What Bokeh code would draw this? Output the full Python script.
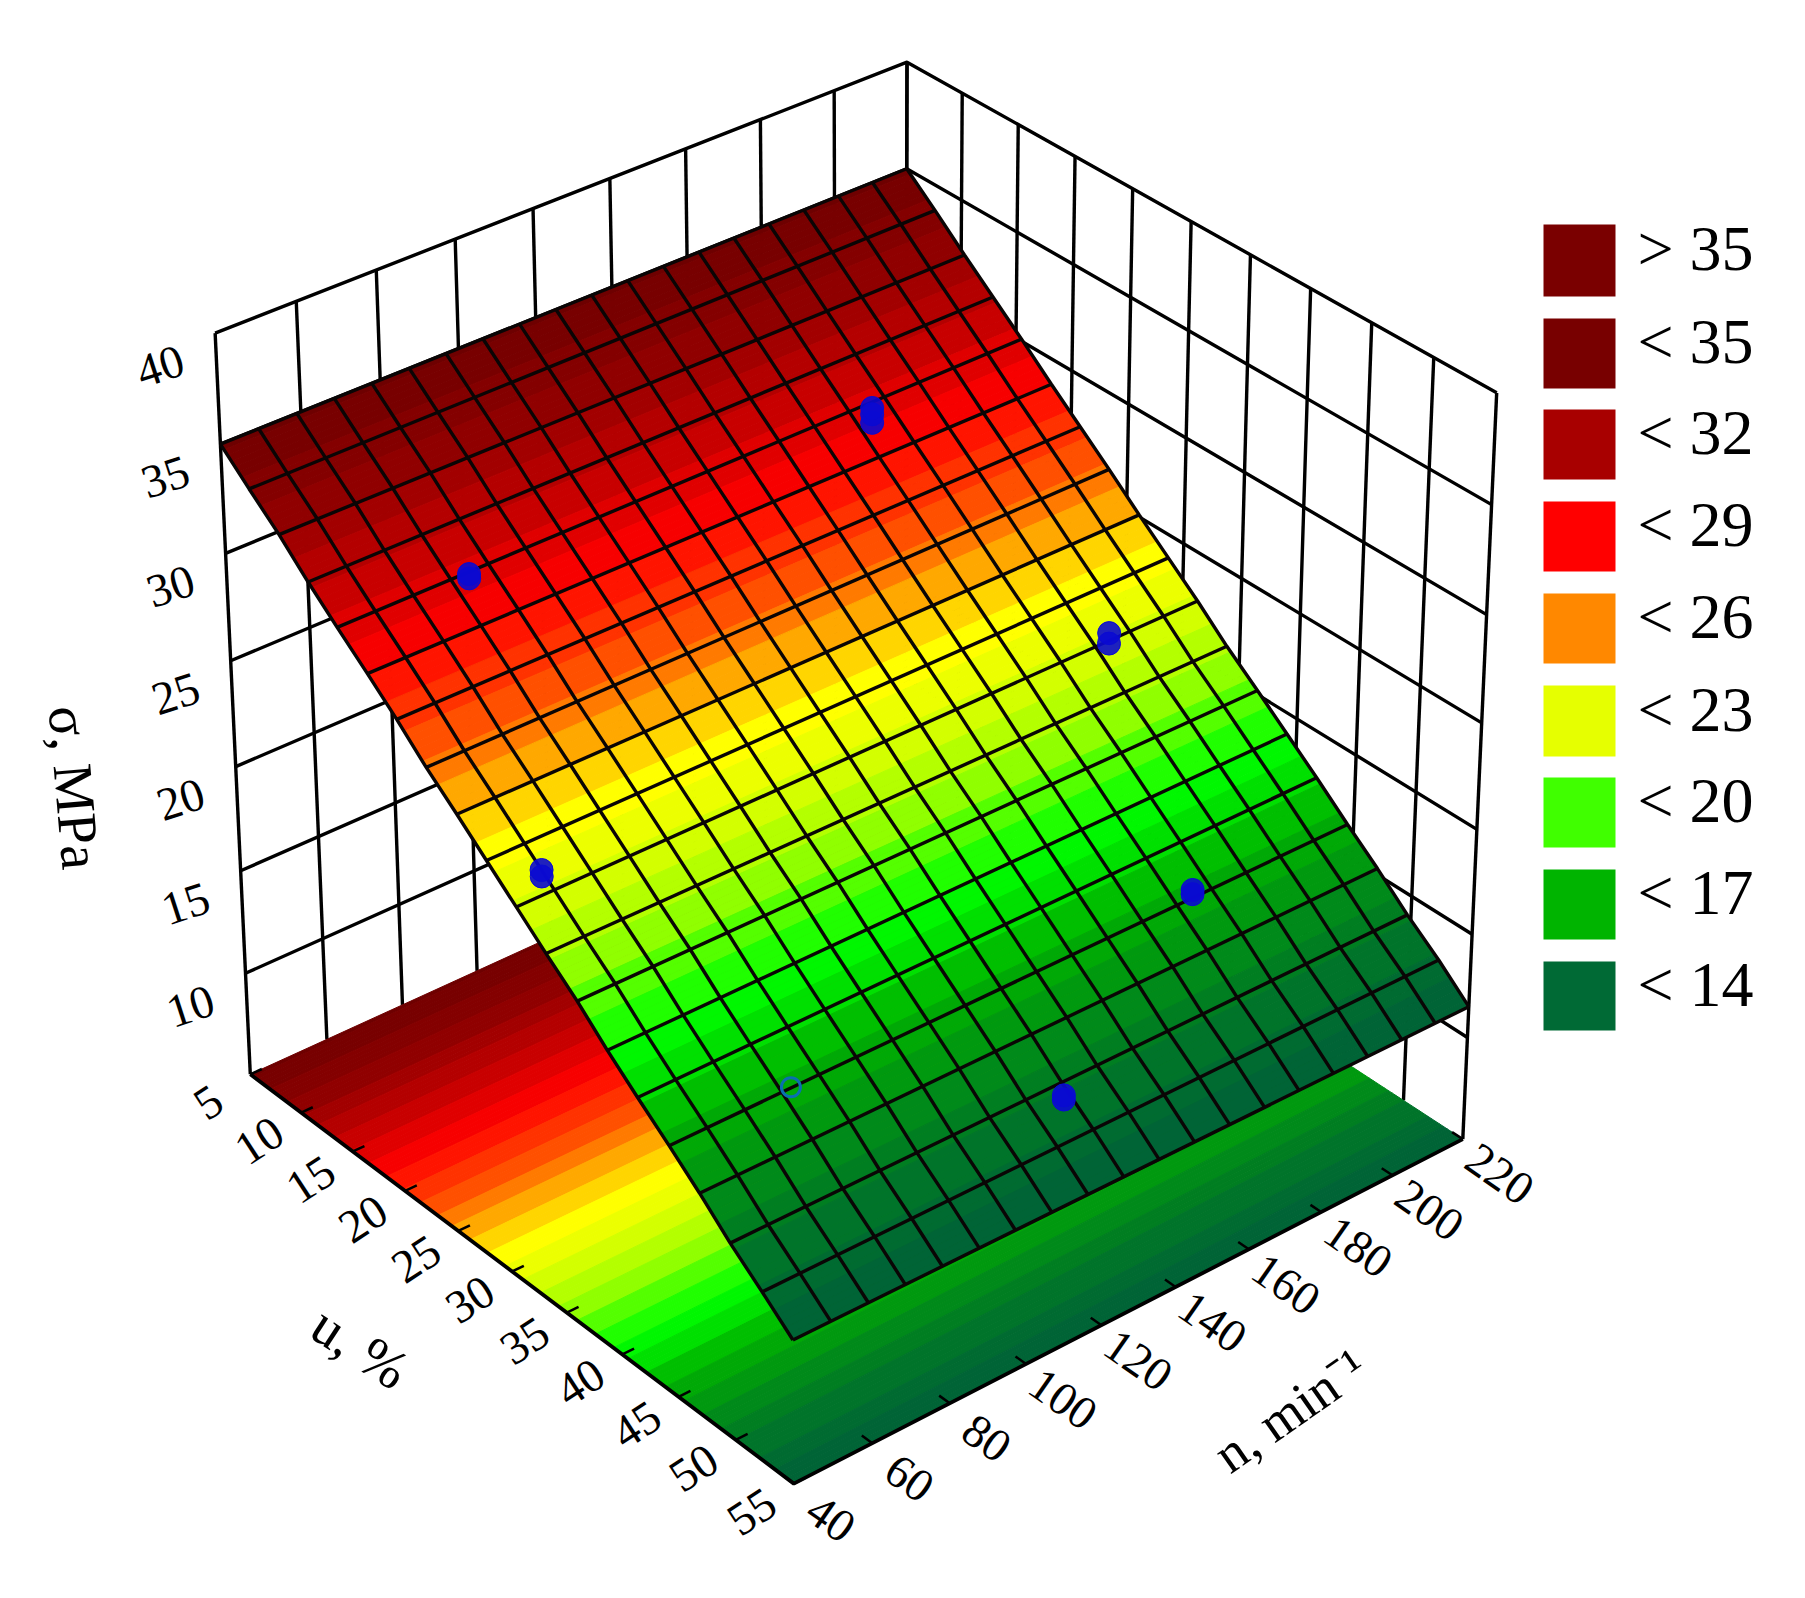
import numpy as np
from bokeh.plotting import figure
from bokeh.models import ColumnDataSource, Range1d
from bokeh.core.properties import value
from bokeh.embed import file_html
from bokeh.resources import INLINE

# ---- axis ticks
n_ticks = [40, 60, 80, 100, 120, 140, 160, 180, 200, 220]
u_ticks = [5, 10, 15, 20, 25, 30, 35, 40, 45, 50, 55]
z_ticks = [10, 15, 20, 25, 30, 35, 40]
n_min, n_max, u_min, u_max, z_min, z_max = 40, 220, 5, 55, 5, 40

# ---- fitted surface
mesh_n = [40.0, 49.5, 59.0, 68.4, 77.9, 87.4, 96.8, 106.3, 115.8, 125.3, 134.7, 144.2, 153.7, 163.2, 172.6, 182.1, 191.6, 201.1, 210.5, 220.0]
mesh_u = [5.0, 7.6, 10.3, 12.9, 15.5, 18.2, 20.8, 23.4, 26.1, 28.7, 31.3, 33.9, 36.6, 39.2, 41.8, 44.5, 47.1, 49.7, 52.4, 55.0]
surf_z_low_n = [35.0, 33.8, 32.6, 31.3, 30.1, 28.9, 27.7, 26.4, 25.2, 24.0, 22.8, 21.6, 20.4, 19.1, 17.9, 16.7, 15.5, 14.2, 13.0, 11.8]
surf_z_high_n = [35.0, 33.8, 32.5, 31.3, 30.1, 28.8, 27.6, 26.4, 25.1, 23.9, 22.7, 21.4, 20.2, 19.0, 17.8, 16.5, 15.3, 14.0, 12.8, 11.5]

# ---- measured points (n, u, sigma replicates)
pts_n = [73, 176.7, 196.3, 50, 177.5, 70.7, 123.7]
pts_u = [15.5, 16.2, 31, 30, 44.3, 44.5, 50.4]
pts_z = [[29.8, 30.0], [29.5, 29.9, 30.2], [22.4, 22.9], [22.9, 23.2], [16.6, 16.8], [16.7], [13.7, 13.9]]
pts_hollow = [False, False, False, False, False, True, False]

# ---- legend
legend_labels = ["> 35", "< 35", "< 32", "< 29", "< 26", "< 23", "< 20", "< 17", "< 14"]
legend_colors = ["#7a0000", "#780000", "#a80000", "#ff0000", "#ff8800", "#e6ff00", "#40ff00", "#00b400", "#006a35"]

# ---- colour ramp against sigma
ramp_z = [10, 11, 12, 13, 14, 15, 16, 17, 18, 19, 20, 21, 22, 23, 24, 25, 26, 27, 28, 29, 30, 31, 32, 33, 34, 35, 36]
ramp_rgb = [
    (0, 78, 66), (0, 90, 60), (0, 100, 54), (0, 110, 48), (0, 122, 36), (0, 138, 26), (0, 158, 12), (0, 180, 0), (0, 224, 0), (0, 255, 0),
    (64, 255, 0), (144, 255, 0), (192, 255, 0), (230, 255, 0), (255, 255, 0), (255, 200, 0), (255, 136, 0),
    (255, 80, 0), (255, 40, 0), (255, 0, 0), (224, 0, 0), (192, 0, 0), (168, 0, 0), (144, 0, 0), (128, 0, 0),
    (112, 0, 0), (104, 0, 0)]


def colour(z):
    z = np.round(z / 0.75) * 0.75
    r = [int(np.interp(z, ramp_z, [c[i] for c in ramp_rgb])) for i in range(3)]
    return "#%02x%02x%02x" % tuple(r)


# ---- camera calibrated on the box corners seen in the picture (data -> page pixels)
calib = [
    (40, 5, 40, 213, 335), (220, 5, 40, 906, 63), (220, 55, 40, 1498, 392), (40, 5, 5, 249, 1075),
    (40, 55, 5, 794, 1482), (220, 55, 5, 1461, 1141), (220, 5, 5, 906, 773), (40, 5, 30, 227, 552),
    (40, 5, 20, 235, 767), (220, 55, 30, 1485, 613), (220, 5, 35, 906, 168), (40, 5, 35, 220, 441),
]


def norm(n, u, z):
    return (n - 130.0) / 90.0, (u - 30.0) / 25.0, (z - 22.5) / 17.5


A = []
for n, u, z, px, py in calib:
    X = list(norm(n, u, z)) + [1.0]
    A.append(X + [0, 0, 0, 0] + [-px * c for c in X])
    A.append([0, 0, 0, 0] + X + [-py * c for c in X])
P = np.linalg.svd(np.array(A, float))[2][-1].reshape(3, 4)


def proj(n, u, z):
    X = np.array(list(norm(n, u, z)) + [1.0])
    h = P @ X
    return float(h[0] / h[2]), float(h[1] / h[2])


W, H = 1789, 1582
p = figure(width=W, height=H, x_range=Range1d(0, W), y_range=Range1d(H, 0),
           output_backend="svg", toolbar_location=None, min_border=0)
p.axis.visible = False
p.grid.visible = False
p.outline_line_color = None
p.background_fill_color = "white"
p.border_fill_color = "white"


def seg(points, width=3.0, color="black"):
    xs, ys = zip(*points)
    p.line(list(xs), list(ys), line_color=color, line_width=width)


# ---- walls
LW = 3.4
for n in n_ticks:
    seg([proj(n, u_min, z_min), proj(n, u_min, z_max)], LW)
for u in u_ticks:
    seg([proj(n_max, u, z_min), proj(n_max, u, z_max)], LW)
for z in z_ticks:
    seg([proj(n_min, u_min, z), proj(n_max, u_min, z), proj(n_max, u_max, z)], LW)

# ---- floor and surface, painted as thin strips along u
sub = 8
us = []
for a, b in zip(mesh_u[:-1], mesh_u[1:]):
    us += [a + (b - a) * k / sub for k in range(sub)]
us.append(mesh_u[-1])
fx, fy, fc, sx, sy, sc = [], [], [], [], [], []
for a, b in zip(us[:-1], us[1:]):
    zl0, zl1 = np.interp([a, b], mesh_u, surf_z_low_n)
    zh0, zh1 = np.interp([a, b], mesh_u, surf_z_high_n)
    col = colour((zl0 + zl1 + zh0 + zh1) / 4)
    q = [proj(n_min, a, z_min), proj(n_max, a, z_min), proj(n_max, b, z_min), proj(n_min, b, z_min)]
    fx.append([c[0] for c in q]); fy.append([c[1] for c in q]); fc.append(col)
    q = [proj(n_min, a, zl0), proj(n_max, a, zh0), proj(n_max, b, zh1), proj(n_min, b, zl1)]
    sx.append([c[0] for c in q]); sy.append([c[1] for c in q]); sc.append(col)

p.patches("x", "y", source=ColumnDataSource(dict(x=fx, y=fy, c=fc)), fill_color="c", line_color="c", line_width=1)

# floor edges and ticks
seg([proj(n_min, u_min, z_min), proj(n_min, u_max, z_min), proj(n_max, u_max, z_min)], 3.8)
for u in u_ticks:
    seg([proj(n_min, u, z_min), proj(n_min + 3, u, z_min)], 2.5)
for n in n_ticks:
    seg([proj(n, u_max, z_min), proj(n, u_max - 0.9, z_min)], 2.5)

p.patches("x", "y", source=ColumnDataSource(dict(x=sx, y=sy, c=sc)), fill_color="c", line_color="c", line_width=1)

# mesh
for i, n in enumerate(mesh_n):
    f = (n - n_min) / (n_max - n_min)
    zs = [a + (b - a) * f for a, b in zip(surf_z_low_n, surf_z_high_n)]
    seg([proj(n, u, z) for u, z in zip(mesh_u, zs)], 3.4, "#0a0505")
for j, u in enumerate(mesh_u):
    seg([proj(n_min, u, surf_z_low_n[j]), proj(n_max, u, surf_z_high_n[j])], 3.4, "#0a0505")

# ---- measured points
for n, u, zs, hollow in zip(pts_n, pts_u, pts_z, pts_hollow):
    for z in zs:
        x, y = proj(n, u, z)
        if hollow:
            p.scatter([x], [y], size=19, marker="circle", fill_color=None, line_color="#0a6fb0", line_width=3)
        else:
            p.scatter([x], [y], size=23, marker="circle", fill_color="#0a0ad2", fill_alpha=0.9, line_color="#0a0ad2", line_width=1)

# ---- tick labels
serif = value("Liberation Serif")
tick_font = "47px"


def label(x, y, text, size, angle, color="black"):
    p.text([x], [y], text=[text], text_font=serif, text_font_size=size, angle=angle, angle_units="deg",
           text_align="center", text_baseline="middle", text_color=color)


for z in z_ticks:
    x, y = proj(n_min, u_min, z)
    label(x - 55, y + 33, str(z), tick_font, 18)
for u in u_ticks:
    x, y = proj(n_min, u, z_min)
    label(x - 42, y + 28, str(u), tick_font, 33)
for n in n_ticks:
    x, y = proj(n, u_max, z_min)
    label(x + 37, y + 35, str(n), tick_font, -35)

label(74, 787, "σ, MPa", "56px", -85)
label(360, 1347, "u, %", "56px", -33)
label(1290, 1410, "n, min⁻¹", "54px", 35)

# ---- legend
leg_top = [224, 318, 409, 501, 593, 685, 777, 869, 961]
leg_bot = [296, 388, 479, 571, 663, 756, 847, 939, 1030]
p.quad(left=[1543] * 9, right=[1615] * 9, top=leg_top, bottom=leg_bot, fill_color=legend_colors, line_color=None)
for t, b, s in zip(leg_top, leg_bot, legend_labels):
    p.text([1637], [(t + b) / 2 - 12], text=[s], text_font=serif, text_font_size="64px",
           text_align="left", text_baseline="middle", text_color="black")

open("out.html", "w").write(file_html(p, INLINE))
